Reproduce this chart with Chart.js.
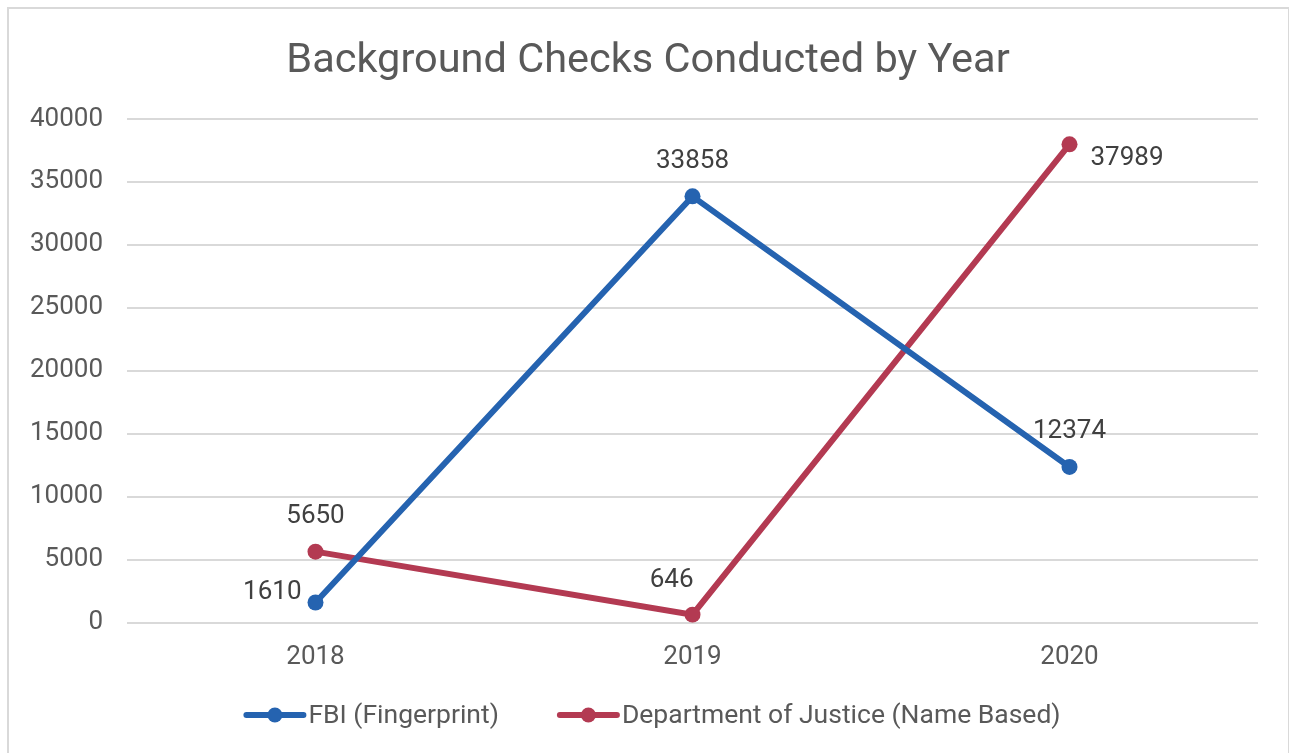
<!DOCTYPE html>
<html>
<head>
<meta charset="utf-8">
<title>Background Checks Conducted by Year</title>
<script src="https://cdn.jsdelivr.net/npm/chart.js@4.4.1/dist/chart.umd.min.js"></script>
<style>
  html, body { margin: 0; padding: 0; background: #fff; overflow: hidden; }
  #frame { position: absolute; left: 7px; top: 7px; width: 1283px; height: 760px; box-sizing: border-box; border: 2px solid #d9d9d9; }
  #chart { position: absolute; left: 8px; top: 0; }
</style>
</head>
<body>
<div id="frame"></div>
<canvas id="chart" width="1281" height="753"></canvas>
<script>
// data
const years = ['2018', '2019', '2020'];
const fbiChecks = [1610, 33858, 12374];
const dojChecks = [5650, 646, 37989];
const seriesNames = ['FBI (Fingerprint)', 'Department of Justice (Name Based)'];
const chartTitle = 'Background Checks Conducted by Year';
const yMax = 40000;
const yStep = 5000;

const FONT = 'Roboto, "Open Sans", sans-serif';
const BLUE = '#2563b0';
const RED = '#b33a52';

// title drawn by hand so it can be centred on the frame, not the plot
const centerTitle = {
  id: 'centerTitle',
  afterDraw(chart, args, opts) {
    const ctx = chart.ctx;
    ctx.save();
    ctx.font = '41.5px ' + FONT;
    ctx.fillStyle = '#595959';
    ctx.textAlign = 'center';
    ctx.textBaseline = 'middle';
    ctx.fillText(opts.text, opts.x, opts.y);
    ctx.restore();
  }
};

// value labels next to each point
const valueLabels = {
  id: 'valueLabels',
  afterDatasetsDraw(chart, args, opts) {
    const ctx = chart.ctx;
    ctx.save();
    ctx.font = '26px ' + FONT;
    ctx.fillStyle = '#404040';
    ctx.textBaseline = 'middle';
    chart.data.datasets.forEach((ds, i) => {
      chart.getDatasetMeta(i).data.forEach((pt, j) => {
        const text = String(ds.data[j]);
        const place = opts.places[i][j];
        let x = pt.x, y = pt.y;
        if (place === 'left') { ctx.textAlign = 'right'; x -= 14; y -= 10; }
        else if (place === 'aboveLeft') { ctx.textAlign = 'right'; x += 1; y -= 34; }
        else if (place === 'right') { ctx.textAlign = 'left'; x += 21; y += 14; }
        else { ctx.textAlign = 'center'; y -= 35; }
        ctx.fillText(text, x, y);
      });
    });
    ctx.restore();
  }
};

// excel style legend: line with a dot in the middle
const lineLegend = {
  id: 'lineLegend',
  afterDraw(chart, args, opts) {
    const ctx = chart.ctx;
    const markW = 63, gap = 2, itemGap = 58;
    ctx.save();
    ctx.font = '26.5px ' + FONT;
    ctx.textBaseline = 'middle';
    ctx.textAlign = 'left';
    const items = chart.data.datasets.map(ds => ({
      text: ds.label, color: ds.borderColor, w: markW + gap + ctx.measureText(ds.label).width
    }));
    const total = items.reduce((s, it) => s + it.w, 0) + itemGap * (items.length - 1);
    let x = opts.centerX - total / 2;
    const y = opts.y;
    items.forEach(it => {
      ctx.strokeStyle = it.color;
      ctx.lineWidth = 6;
      ctx.lineCap = 'round';
      ctx.beginPath();
      ctx.moveTo(x + 3, y);
      ctx.lineTo(x + markW - 3, y);
      ctx.stroke();
      ctx.fillStyle = it.color;
      ctx.beginPath();
      ctx.arc(x + markW / 2, y, 7.5, 0, Math.PI * 2);
      ctx.fill();
      ctx.fillStyle = '#595959';
      ctx.fillText(it.text, x + markW + gap, y + 1);
      x += it.w + itemGap;
    });
    ctx.restore();
  }
};

const ctx = document.getElementById('chart').getContext('2d');
new Chart(ctx, {
  type: 'line',
  data: {
    labels: years,
    datasets: [
      {
        label: seriesNames[0],
        data: fbiChecks,
        borderColor: BLUE,
        backgroundColor: BLUE,
        borderWidth: 6,
        pointRadius: 8,
        pointBorderWidth: 0,
        pointBackgroundColor: BLUE,
        tension: 0,
      },
      {
        label: seriesNames[1],
        data: dojChecks,
        borderColor: RED,
        backgroundColor: RED,
        borderWidth: 6,
        pointRadius: 8,
        pointBorderWidth: 0,
        pointBackgroundColor: RED,
        tension: 0,
      },
    ],
  },
  options: {
    responsive: false,
    animation: false,
    layout: { padding: { left: 0, right: 31, top: 119, bottom: 61 } },
    plugins: {
      legend: { display: false },
      tooltip: { enabled: false },
      title: { display: false },
      centerTitle: { text: chartTitle, x: 640, y: 62 },
      valueLabels: {
        places: [['left', 'above', 'above'], ['above', 'aboveLeft', 'right']],
      },
      lineLegend: { centerX: 644, y: 715 },
    },
    scales: {
      x: {
        offset: true,
        grid: { display: false, drawTicks: false },
        border: { display: false },
        ticks: { color: '#595959', font: { family: FONT, size: 26 }, padding: 19 },
      },
      y: {
        min: 0,
        max: yMax,
        afterFit(scale) { scale.width = 119; },
        grid: { color: '#d9d9d9', lineWidth: 2, drawTicks: false },
        border: { display: false },
        ticks: {
          stepSize: yStep,
          color: '#595959',
          font: { family: FONT, size: 26 },
          padding: 24,
          callback: v => String(v),
        },
      },
    },
  },
  plugins: [centerTitle, valueLabels, lineLegend],
});
</script>
</body>
</html>
